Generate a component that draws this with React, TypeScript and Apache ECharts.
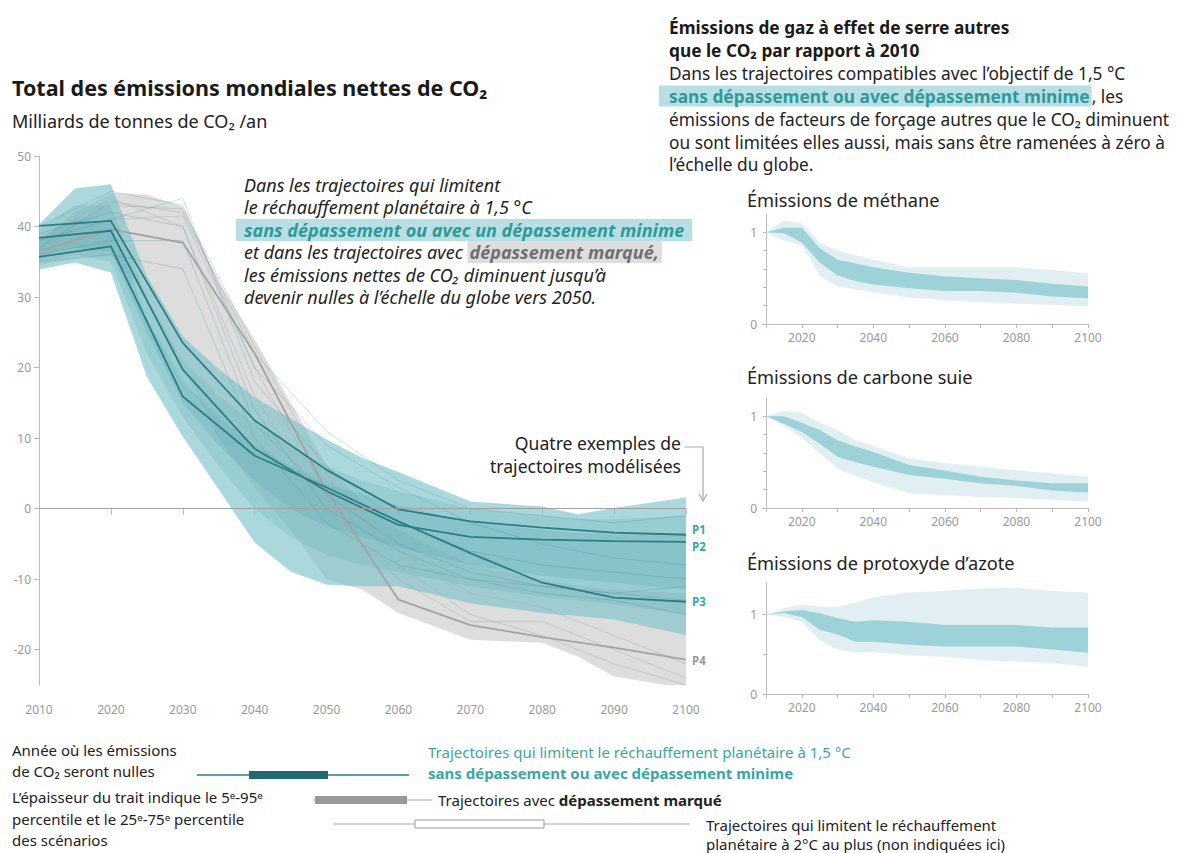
import React, { useEffect, useRef } from "react";
import * as echarts from "echarts";

const FONT = '"Noto Sans", sans-serif';

// ---------- Main chart data ----------
const yearsMain = [2010, 2015, 2020, 2025, 2030, 2035, 2040, 2045, 2050, 2055, 2060, 2070, 2080, 2085, 2090, 2100];
const tealOuterUpper = [40.3, 45.4, 46.0, 33.0, 24.4, 19.8, 15.8, 12.8, 9.8, 7.2, 5.2, 1.0, 0.3, -0.8, 0.1, 1.6];
const tealOuterLower = [33.9, 34.9, 33.5, 18.7, 10.2, 2.7, -4.8, -8.9, -10.8, -11.0, -11.0, -13.4, -14.8, -15.2, -15.7, -17.9];
const tealMidUpper = [39.5, 43.0, 43.0, 30.0, 21.0, 16.0, 12.0, 9.0, 6.0, 4.0, 2.5, 0.0, -1.0, -1.5, -1.5, -1.0];
const tealMidLower = [35.0, 36.0, 35.0, 22.0, 13.0, 6.0, 0.0, -4.0, -6.5, -8.0, -9.0, -11.0, -12.5, -13.0, -13.5, -15.0];
const tealCoreUpper = [38.5, 41.0, 40.5, 27.0, 18.0, 13.0, 9.0, 6.0, 3.5, 2.0, 0.5, -2.0, -3.0, -3.5, -3.5, -3.5];
const tealCoreLower = [36.0, 37.0, 36.5, 25.0, 15.0, 9.0, 4.0, 0.0, -2.5, -4.0, -5.5, -8.0, -9.5, -10.0, -10.5, -11.5];
const grayUpper = [38.0, 42.0, 44.8, 44.5, 42.8, 32.2, 24.0, 15.0, 6.2, 1.0, -3.0, -8.0, -10.0, -11.0, -11.5, -12.0];
const grayLower = [34.5, 35.5, 36.0, 30.0, 20.0, 10.0, 3.0, -3.0, -10.0, -11.5, -14.8, -18.6, -19.0, -21.0, -23.8, -25.5];

const yearsPath = [2010, 2020, 2030, 2040, 2050, 2060, 2070, 2080, 2090, 2100];
const P1 = [40.1, 40.8, 23.5, 12.5, 5.5, -0.1, -1.8, -2.7, -3.4, -3.7];
const P2 = [38.4, 39.4, 19.7, 8.5, 2.5, -2.3, -4.0, -4.4, -4.6, -4.7];
const P3 = [35.7, 37.2, 15.9, 7.5, 3.0, -1.8, -6.3, -10.5, -12.6, -13.2];
const P4 = [36.5, 39.6, 37.7, 22.0, 2.5, -12.9, -16.5, -18.2, -19.7, -21.4];

const tealThin = [
  [37, 43.5, 42, 22, 11, 4, 0, -1, -2, -1],
  [38, 41, 44, 18, 6, -2, -6, -8, -9, -10],
  [36, 38, 38, 12, 2, -5, -9, -11, -12, -13],
  [39, 42, 40, 14, 0, -6, -10, -12, -13, -15],
  [35, 36, 34, 10, -2, -8, -10, -11, -12, -11],
  [40, 45, 43, 20, 9, 3, -2, -5, -7, -8],
];
const grayThin = [
  [37, 43, 42.5, 23, 5, -8, -15, -18, -22, -25],
  [36, 41, 41.5, 20, 2, -6, -12, -14, -18, -22],
  [38, 44, 40, 16, 0, -10, -16, -16, -20, -24],
];

const mainYTicks = [-20, -10, 0, 10, 20, 30, 40, 50];

// ---------- Small charts data ----------
const yearsSmall = [2010, 2015, 2020, 2025, 2030, 2035, 2040, 2050, 2060, 2070, 2080, 2090, 2100];
const ch4OuterUpper = [1.0, 1.13, 1.1, 0.89, 0.8, 0.75, 0.7, 0.62, 0.62, 0.62, 0.62, 0.59, 0.55];
const ch4OuterLower = [1.0, 0.91, 0.86, 0.53, 0.41, 0.38, 0.35, 0.29, 0.26, 0.24, 0.22, 0.21, 0.19];
const ch4InnerUpper = [1.0, 1.05, 1.05, 0.83, 0.7, 0.66, 0.62, 0.56, 0.52, 0.5, 0.48, 0.44, 0.41];
const ch4InnerLower = [1.0, 0.99, 0.89, 0.67, 0.53, 0.47, 0.43, 0.39, 0.36, 0.36, 0.34, 0.3, 0.28];

const bcOuterUpper = [1.0, 1.06, 1.04, 0.93, 0.85, 0.74, 0.68, 0.54, 0.49, 0.45, 0.41, 0.38, 0.34];
const bcOuterLower = [1.0, 0.9, 0.76, 0.6, 0.43, 0.35, 0.28, 0.16, 0.14, 0.12, 0.11, 0.09, 0.07];
const bcInnerUpper = [1.0, 1.0, 0.93, 0.85, 0.74, 0.67, 0.61, 0.47, 0.41, 0.34, 0.3, 0.27, 0.27];
const bcInnerLower = [1.0, 0.92, 0.83, 0.7, 0.56, 0.5, 0.45, 0.36, 0.32, 0.27, 0.24, 0.19, 0.17];

const n2oOuterUpper = [1.0, 1.08, 1.13, 1.1, 1.1, 1.15, 1.22, 1.28, 1.3, 1.33, 1.34, 1.3, 1.28];
const n2oOuterLower = [1.0, 0.97, 0.91, 0.68, 0.56, 0.52, 0.53, 0.49, 0.47, 0.43, 0.41, 0.39, 0.34];
const n2oInnerUpper = [1.0, 1.04, 1.06, 1.02, 0.96, 0.91, 0.93, 0.91, 0.87, 0.87, 0.87, 0.84, 0.84];
const n2oInnerLower = [1.0, 1.02, 0.97, 0.81, 0.75, 0.66, 0.66, 0.62, 0.6, 0.6, 0.6, 0.56, 0.52];

const TEAL_TEXT = "#2f9a9a";
const TEAL_LEG = "#3aa5a7";

function band(ai: number, years: number[], upper: number[], lower: number[], fill: string) {
  return {
    type: "custom",
    xAxisIndex: ai,
    yAxisIndex: ai,
    clip: true,
    silent: true,
    data: years.map((y, i) => [y, upper[i]]),
    renderItem: (params: any, api: any) => {
      if (params.dataIndex !== 0) return null;
      const pts: number[][] = [];
      for (let i = 0; i < years.length; i++) pts.push(api.coord([years[i], upper[i]]));
      for (let i = years.length - 1; i >= 0; i--) pts.push(api.coord([years[i], lower[i]]));
      return { type: "polygon", shape: { points: pts }, style: { fill, stroke: "none" } };
    },
  };
}

function line(values: number[], color: string, width: number, extra: any = {}) {
  return {
    type: "line",
    xAxisIndex: 0,
    yAxisIndex: 0,
    data: yearsPath.map((y, i) => [y, values[i]]),
    symbol: "none",
    silent: true,
    lineStyle: { color, width },
    ...extra,
  };
}

function txt(x: number, y: number, text: string, o: any = {}) {
  return {
    type: "text",
    x,
    y,
    z: 100,
    silent: true,
    style: {
      text,
      fill: o.fill || "#222",
      fontFamily: FONT,
      fontSize: o.size || 14,
      fontWeight: o.weight || "normal",
      fontStyle: o.style || "normal",
      align: o.align || "left",
      textAlign: o.align || "left",
      verticalAlign: "middle",
      textVerticalAlign: "middle",
      rich: o.rich,
    },
  };
}

function smallX(gi: number) {
  return {
    type: "value",
    gridIndex: gi,
    min: 2010,
    max: 2100,
    interval: 10,
    axisLine: { show: true, lineStyle: { color: "#bbb" } },
    axisTick: { show: true, length: 4, lineStyle: { color: "#bbb" } },
    axisLabel: {
      color: "#999",
      fontSize: 12,
      fontFamily: FONT,
      margin: 7,
      formatter: (v: number) => (v % 20 === 0 ? String(v) : ""),
    },
    splitLine: { show: false },
  };
}

function smallY(gi: number, max: number, ticks: number[]) {
  return {
    type: "value",
    gridIndex: gi,
    min: 0,
    max,
    axisLine: { show: true, lineStyle: { color: "#bbb" } },
    axisTick: { show: true, length: 3, lineStyle: { color: "#bbb" }, customValues: ticks },
    axisLabel: { color: "#999", fontSize: 12, fontFamily: FONT, margin: 9, customValues: [0, 1] },
    splitLine: { show: false },
  };
}

export default function App() {
  const ref = useRef<HTMLDivElement>(null);
  useEffect(() => {
    if (!ref.current) return;
    const chart = echarts.init(ref.current, null, { renderer: "svg" });
    const outerInner = (ai: number, ou: number[], ol: number[], iu: number[], il: number[]) => [
      band(ai, yearsSmall, ou, ol, "#e1eff2"),
      band(ai, yearsSmall, iu, il, "#9dd2d9"),
    ];
    const A = 18; // annotation size
    const H = 17.3; // header size
    const L = 15; // legend size
    const option: any = {
      animation: false,
      backgroundColor: "#fff",
      grid: [
        { left: 39, top: 156, width: 647, height: 529 },
        { left: 766, top: 214, width: 322, height: 110 },
        { left: 766, top: 398, width: 322, height: 110 },
        { left: 766, top: 583, width: 322, height: 111 },
      ],
      xAxis: [
        {
          type: "value",
          gridIndex: 0,
          min: 2010,
          max: 2100,
          interval: 10,
          axisLine: { show: false },
          axisTick: { show: true, length: 6, lineStyle: { color: "#bbb" } },
          axisLabel: { color: "#999", fontSize: 12, fontFamily: FONT, margin: 18, formatter: (v: number) => String(v) },
          splitLine: { show: false },
        },
        smallX(1),
        smallX(2),
        smallX(3),
      ],
      yAxis: [
        {
          type: "value",
          gridIndex: 0,
          min: -25,
          max: 50,
          axisLine: { show: true, lineStyle: { color: "#bbb" } },
          axisTick: { show: true, length: 5, lineStyle: { color: "#bbb" }, customValues: mainYTicks },
          axisLabel: { color: "#999", fontSize: 12, fontFamily: FONT, margin: 8, customValues: mainYTicks },
          splitLine: { show: false },
        },
        smallY(1, 1.2, [0, 0.2, 0.4, 0.6, 0.8, 1]),
        smallY(2, 1.2, [0, 0.2, 0.4, 0.6, 0.8, 1]),
        smallY(3, 1.4, [0, 0.5, 1]),
      ],
      series: [
        band(0, yearsMain, grayUpper, grayLower, "rgba(205,205,205,0.68)"),
        ...grayThin.map((g) => line(g, "rgba(170,170,170,0.45)", 1)),
        band(0, yearsMain, tealOuterUpper, tealOuterLower, "rgba(124,195,202,0.65)"),
        band(0, yearsMain, tealMidUpper, tealMidLower, "rgba(90,170,179,0.22)"),
        band(0, yearsMain, tealCoreUpper, tealCoreLower, "rgba(77,159,168,0.22)"),
        ...tealThin.map((t) => line(t, "rgba(60,140,150,0.25)", 1)),
        line(P4, "#a3a3a3", 1.8),
        line(P1, "#2e7d84", 1.8, {
          markLine: {
            silent: true,
            symbol: ["none", "none"],
            label: { show: false },
            lineStyle: { color: "#a0a0a0", width: 1, type: "solid" },
            data: [{ yAxis: 0 }],
          },
        }),
        line(P2, "#2e7d84", 1.8),
        line(P3, "#2e7d84", 1.8),
        ...outerInner(1, ch4OuterUpper, ch4OuterLower, ch4InnerUpper, ch4InnerLower),
        ...outerInner(2, bcOuterUpper, bcOuterLower, bcInnerUpper, bcInnerLower),
        ...outerInner(3, n2oOuterUpper, n2oOuterLower, n2oInnerUpper, n2oInnerLower),
      ],
      graphic: [
        // Main titles
        txt(12, 87, "Total des émissions mondiales nettes de CO₂", { size: 21.5, weight: "bold", fill: "#1a1a1a" }),
        txt(12, 121, "Milliards de tonnes de CO₂ /an", { size: 18 }),
        // Annotation
        txt(244, 185, "Dans les trajectoires qui limitent", { size: A, style: "italic" }),
        txt(244, 207, "le réchauffement planétaire à 1,5 °C", { size: A, style: "italic" }),
        txt(236, 230, "{h|sans dépassement ou avec un dépassement minime}", {
          size: A,
          style: "italic",
          rich: {
            h: {
              fill: TEAL_TEXT,
              color: TEAL_TEXT,
              fontWeight: "bold",
              fontStyle: "italic",
              fontSize: A,
              fontFamily: FONT,
              backgroundColor: "#b8dfe3",
              padding: [2, 8, 2, 8],
            },
          },
        }),
        txt(244, 252, "et dans les trajectoires avec {g|dépassement marqué,}", {
          size: A,
          style: "italic",
          rich: {
            g: {
              fill: "#707070",
              color: "#707070",
              fontWeight: "bold",
              fontStyle: "italic",
              fontSize: A,
              fontFamily: FONT,
              backgroundColor: "#dedede",
              padding: [2, 3, 2, 2],
            },
          },
        }),
        txt(244, 275, "les émissions nettes de CO₂ diminuent jusqu’à", { size: A, style: "italic" }),
        txt(244, 297, "devenir nulles à l’échelle du globe vers 2050.", { size: A, style: "italic" }),
        // Right header
        txt(669, 27, "Émissions de gaz à effet de serre autres", { size: H, weight: "bold", fill: "#1a1a1a" }),
        txt(669, 50, "que le CO₂ par rapport à 2010", { size: H, weight: "bold", fill: "#1a1a1a" }),
        txt(669, 73, "Dans les trajectoires compatibles avec l’objectif de 1,5 °C", { size: H }),
        txt(659, 96, "{h|sans dépassement ou avec dépassement minime}, les", {
          size: H,
          rich: {
            h: {
              fill: TEAL_TEXT,
              color: TEAL_TEXT,
              fontWeight: "bold",
              fontSize: H,
              fontFamily: FONT,
              backgroundColor: "#b8dfe3",
              padding: [2, 2, 2, 10],
            },
          },
        }),
        txt(669, 119, "émissions de facteurs de forçage autres que le CO₂ diminuent", { size: H }),
        txt(669, 142, "ou sont limitées elles aussi, mais sans être ramenées à zéro à", { size: H }),
        txt(669, 164, "l’échelle du globe.", { size: H }),
        // Small chart titles
        txt(747, 200, "Émissions de méthane", { size: 18.2 }),
        txt(747, 377, "Émissions de carbone suie", { size: 18.2 }),
        txt(747, 563, "Émissions de protoxyde d’azote", { size: 18.2 }),
        // Quatre exemples
        txt(681, 443, "Quatre exemples de", { size: 17.6, align: "right" }),
        txt(681, 466, "trajectoires modélisées", { size: 17.6, align: "right" }),
        {
          type: "polyline",
          z: 100,
          silent: true,
          shape: { points: [[685, 447], [703, 447], [703, 500]] },
          style: { stroke: "#aaa", lineWidth: 1.2, fill: "none" },
        },
        {
          type: "polyline",
          z: 100,
          silent: true,
          shape: { points: [[699, 494], [703, 501], [707, 494]] },
          style: { stroke: "#aaa", lineWidth: 1.2, fill: "none" },
        },
        txt(692, 529, "P1", { size: 11.5, weight: "bold", fill: TEAL_LEG }),
        txt(692, 546, "P2", { size: 11.5, weight: "bold", fill: TEAL_LEG }),
        txt(692, 601, "P3", { size: 11.5, weight: "bold", fill: TEAL_LEG }),
        txt(692, 660, "P4", { size: 11.5, weight: "bold", fill: "#999" }),
        // Bottom legend
        txt(12, 750, "Année où les émissions", { size: L }),
        txt(12, 771, "de CO₂ seront nulles", { size: L }),
        txt(12, 797, "L’épaisseur du trait indique le 5ᵉ-95ᵉ", { size: L }),
        txt(12, 819, "percentile et le 25ᵉ-75ᵉ percentile", { size: L }),
        txt(12, 840, "des scénarios", { size: L }),
        {
          type: "line",
          z: 100,
          silent: true,
          shape: { x1: 197, y1: 775, x2: 409, y2: 775 },
          style: { stroke: "#2e7d84", lineWidth: 1.5 },
        },
        { type: "rect", z: 101, silent: true, shape: { x: 249, y: 771, width: 79, height: 8 }, style: { fill: "#1f6a70" } },
        txt(428, 752, "Trajectoires qui limitent le réchauffement planétaire à 1,5 °C", { size: L, fill: TEAL_LEG }),
        txt(428, 773, "sans dépassement ou avec dépassement minime", { size: L, fill: TEAL_LEG, weight: "bold" }),
        {
          type: "line",
          z: 100,
          silent: true,
          shape: { x1: 313, y1: 800, x2: 432, y2: 800 },
          style: { stroke: "#aaa", lineWidth: 1.2 },
        },
        { type: "rect", z: 101, silent: true, shape: { x: 315, y: 796, width: 92, height: 8 }, style: { fill: "#999" } },
        txt(438, 800, "Trajectoires avec {b|dépassement marqué}", {
          size: L,
          rich: { b: { fontWeight: "bold", fontSize: L, fontFamily: FONT, fill: "#222", color: "#222" } },
        }),
        {
          type: "line",
          z: 100,
          silent: true,
          shape: { x1: 333, y1: 824, x2: 690, y2: 824 },
          style: { stroke: "#aaa", lineWidth: 1.2 },
        },
        {
          type: "rect",
          z: 101,
          silent: true,
          shape: { x: 415, y: 820, width: 129, height: 8 },
          style: { fill: "#fff", stroke: "#999", lineWidth: 1 },
        },
        txt(706, 825, "Trajectoires qui limitent le réchauffement", { size: L }),
        txt(706, 844, "planétaire à 2°C au plus (non indiquées ici)", { size: L }),
      ],
    };
    chart.setOption(option);
    return () => chart.dispose();
  }, []);
  return (
    <div
      ref={ref}
      style={{ position: "fixed", left: 0, top: 0, width: 1195, height: 853, background: "#fff" }}
    />
  );
}
